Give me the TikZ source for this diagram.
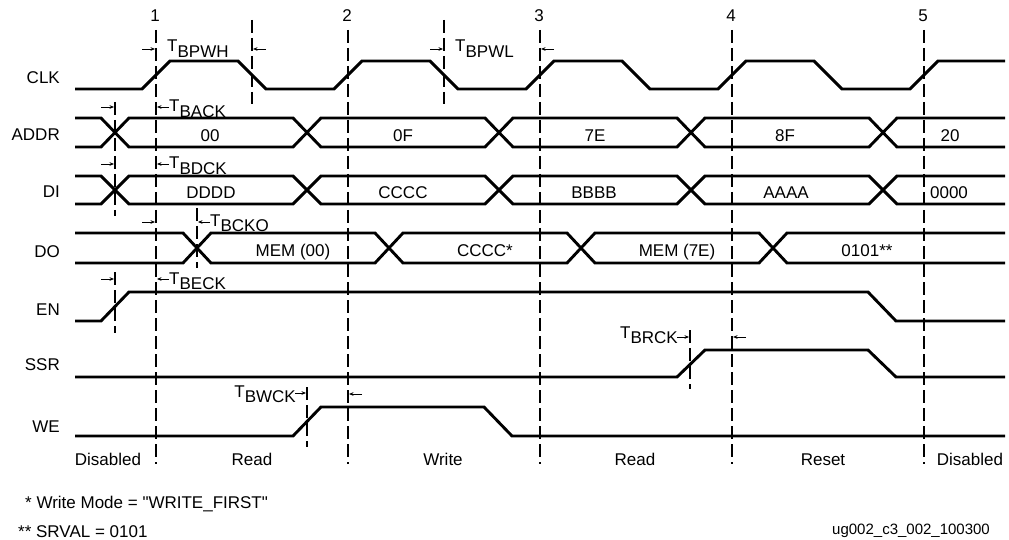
\documentclass[tikz,border=0pt]{standalone}
\usepackage{fontspec}
\setmainfont{Liberation Sans}[Ligatures=TeXOff]
\usetikzlibrary{arrows.meta}
\newcommand{\Tsub}[1]{T\raisebox{-5.5pt}{#1}}
\begin{document}
\begin{tikzpicture}[x=1pt,y=-1pt,
  sig/.style={line width=2.9pt, line join=miter},
  gridline/.style={line width=1.2pt, dash pattern=on 13pt off 5pt},
  aux/.style={line width=1.1pt, dash pattern=on 13pt off 5pt},
  tarrow/.style={line width=0.9pt, -{Stealth[length=4.5pt,width=3.6pt]}},
  lbl/.style={inner sep=0pt, font=\fontsize{17}{20}\selectfont},
  small/.style={inner sep=0pt, font=\fontsize{15}{18}\selectfont},
]
\useasboundingbox (0,0) rectangle (1009,540);

% clock edge reference lines and numbers
\foreach \x/\n in {156/1,348/2,540/3,732/4,924/5}{
  \draw[gridline] (\x,30) -- (\x,464);
  \node[lbl, anchor=base] (num\n) at (\x-1,22) {\n};
}
% auxiliary dashed lines
\draw[aux] (252,20) -- (252,104);
\draw[aux] (444,20) -- (444,104);
\draw[aux] (115,102) -- (115,216);
\draw[aux] (115,272) -- (115,333);
\draw[aux] (197,208) -- (197,268);
\draw[aux] (690,330) -- (690,389);
\draw[aux] (307,387) -- (307,447);

% signal names
\node[lbl, anchor=base east] (nclk) at (60,84) {CLK};
\node[lbl, anchor=base east] (naddr) at (60,141) {ADDR};
\node[lbl, anchor=base east] (ndi) at (60,197) {DI};
\node[lbl, anchor=base east] (ndo) at (60,257) {DO};
\node[lbl, anchor=base east] (nen) at (60,315) {EN};
\node[lbl, anchor=base east] (nssr) at (60,370) {SSR};
\node[lbl, anchor=base east] (nwe) at (60,432) {WE};

% CLK
\draw[sig] (75,89) -- (142,89) -- (170,61) -- (238,61) -- (266,89) -- (334,89)
  -- (362,61) -- (430,61) -- (458,89) -- (526,89) -- (554,61) -- (622,61)
  -- (650,89) -- (718,89) -- (746,61) -- (814,61) -- (842,89) -- (910,89)
  -- (938,61) -- (1005,61);

% ADDR bus
\draw[sig] (75,118) -- (101,118) -- (129,147) -- (293,147) -- (321,118) -- (485,118)
  -- (513,147) -- (677,147) -- (705,118) -- (869,118) -- (897,147) -- (1005,147);
\draw[sig] (75,147) -- (101,147) -- (129,118) -- (293,118) -- (321,147) -- (485,147)
  -- (513,118) -- (677,118) -- (705,147) -- (869,147) -- (897,118) -- (1005,118);
\node[lbl, anchor=base] (a1) at (210,142) {00};
\node[lbl, anchor=base] (a2) at (403,142) {0F};
\node[lbl, anchor=base] (a3) at (595,142) {7E};
\node[lbl, anchor=base] (a4) at (785,142) {8F};
\node[lbl, anchor=base] (a5) at (950,142) {20};

% DI bus
\draw[sig] (75,176) -- (101,176) -- (129,204) -- (293,204) -- (321,176) -- (485,176)
  -- (513,204) -- (677,204) -- (705,176) -- (869,176) -- (897,204) -- (1005,204);
\draw[sig] (75,204) -- (101,204) -- (129,176) -- (293,176) -- (321,204) -- (485,204)
  -- (513,176) -- (677,176) -- (705,204) -- (869,204) -- (897,176) -- (1005,176);
\node[lbl, anchor=base] (d1) at (211,199) {DDDD};
\node[lbl, anchor=base] (d2) at (403,199) {CCCC};
\node[lbl, anchor=base] (d3) at (594,199) {BBBB};
\node[lbl, anchor=base] (d4) at (786,199) {AAAA};
\node[lbl, anchor=base] (d5) at (949,199) {0000};

% DO bus
\draw[sig] (75,233) -- (183,233) -- (211,263) -- (375,263) -- (403,233) -- (567,233)
  -- (595,263) -- (759,263) -- (787,233) -- (1005,233);
\draw[sig] (75,263) -- (183,263) -- (211,233) -- (375,233) -- (403,263) -- (567,263)
  -- (595,233) -- (759,233) -- (787,263) -- (1005,263);
\node[lbl, anchor=base] (o1) at (293,256) {MEM (00)};
\node[lbl, anchor=base] (o2) at (485,256) {CCCC*};
\node[lbl, anchor=base] (o3) at (677,256) {MEM (7E)};
\node[lbl, anchor=base] (o4) at (867,256) {0101**};

% EN
\draw[sig] (75,321) -- (101,321) -- (129,292) -- (868,292) -- (896,321) -- (1005,321);
% SSR
\draw[sig] (75,377) -- (677,377) -- (705,350) -- (868,350) -- (896,377) -- (1005,377);
% WE
\draw[sig] (75,436) -- (293,436) -- (321,407) -- (484,407) -- (512,436) -- (1005,436);

% timing arrows and labels
\draw[tarrow] (142,49) -- (155,49);
\draw[tarrow] (266,49) -- (253,49);
\node[lbl, anchor=base west] (tbpwh) at (167,52) {\Tsub{BPWH}};

\draw[tarrow] (430,49) -- (443,49);
\draw[tarrow] (554,49) -- (541,49);
\node[lbl, anchor=base west] (tbpwl) at (455,52) {\Tsub{BPWL}};

\draw[tarrow] (101,107) -- (114,107);
\draw[tarrow] (169,107) -- (157,107);
\node[lbl, anchor=base west] (tback) at (169,112) {\Tsub{BACK}};

\draw[tarrow] (101,164) -- (114,164);
\draw[tarrow] (169,164) -- (157,164);
\node[lbl, anchor=base west] (tbdck) at (169,169) {\Tsub{BDCK}};

\draw[tarrow] (142,222) -- (155,222);
\draw[tarrow] (210,222) -- (198,222);
\node[lbl, anchor=base west] (tbcko) at (210,226) {\Tsub{BCKO}};

\draw[tarrow] (101,279) -- (114,279);
\draw[tarrow] (169,279) -- (157,279);
\node[lbl, anchor=base west] (tbeck) at (169,284) {\Tsub{BECK}};

\draw[tarrow] (677,337) -- (689,337);
\draw[tarrow] (746,337) -- (733,337);
\node[lbl, anchor=base east] (tbrck) at (678,338) {\Tsub{BRCK}};

\draw[tarrow] (295,393) -- (306,393);
\draw[tarrow] (362,394) -- (349,394);
\node[lbl, anchor=base east] (tbwck) at (296,397) {\Tsub{BWCK}};

% region labels
\node[lbl, anchor=base] (r1) at (108,465) {Disabled};
\node[lbl, anchor=base] (r2) at (252,465) {Read};
\node[lbl, anchor=base] (r3) at (443,465) {Write};
\node[lbl, anchor=base] (r4) at (635,465) {Read};
\node[lbl, anchor=base] (r5) at (823,465) {Reset};
\node[lbl, anchor=base] (r6) at (970,465) {Disabled};

% footnotes
\node[lbl, anchor=base west] (fn1) at (25,508) {* Write Mode = "WRITE\_FIRST"};
\node[lbl, anchor=base west] (fn2) at (18,537) {** SRVAL = 0101};
\node[small, anchor=base west] (fig) at (832,534) {ug002\_c3\_002\_100300};
\end{tikzpicture}
\end{document}
